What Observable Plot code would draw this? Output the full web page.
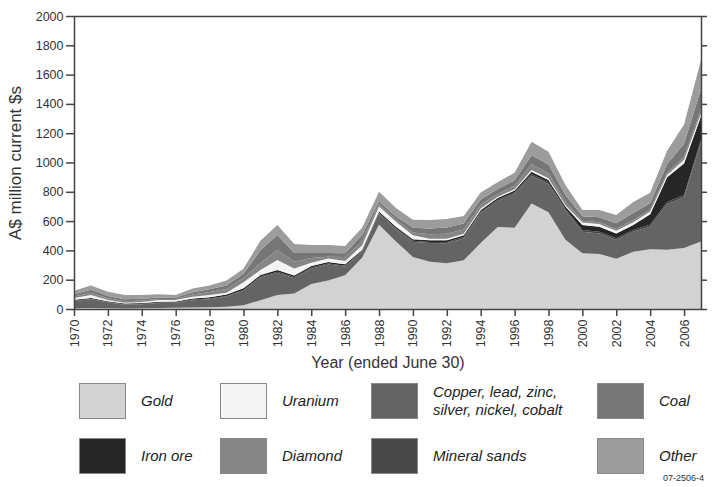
<!DOCTYPE html>
<html>
<head>
<meta charset="utf-8">
<script src="https://cdn.jsdelivr.net/npm/d3@7"></script>
<script src="https://cdn.jsdelivr.net/npm/@observablehq/plot@0.6"></script>
<style>
  html, body { margin: 0; padding: 0; background: #fff; }
  body { width: 712px; height: 487px; overflow: hidden; font-family: "Liberation Sans", Arial, sans-serif; }
  #chart svg { display: block; }
  g[aria-label="y-axis label"] text { font-size: 17px; }
  g[aria-label="x-axis label"] text { font-size: 16px; }
  #legend { position: relative; width: 712px; height: 112px; }
  .sw { position: absolute; width: 47px; height: 36px; border: 1px solid #888; box-sizing: border-box; }
  .lb { position: absolute; font-style: italic; font-size: 15px; color: #222; line-height: 18px; }
  #code { position: absolute; right: 8px; top: 98px; font-size: 9px; color: #333; }
</style>
</head>
<body>
<div id="chart"></div>
<div id="legend"></div>
<script>
const years = d3.range(1970, 2008);
const names = ["Gold", "Copper, lead, zinc, silver, nickel, cobalt", "Mineral sands", "Iron ore", "Uranium", "Diamond", "Coal", "Other"];
const colors = ["#d2d2d2", "#646464", "#474747", "#262626", "#f4f4f4", "#858585", "#767676", "#9c9c9c"];

const gold = [5,6,5,4,5,6,8,10,12,15, 25,60,96,105,170,195,230,350,575,460, 355,322,312,332,450,560,555,720,660,472, 380,376,343,390,408,405,416,460];
const copper = [50,60,40,25,28,35,35,50,55,70, 100,155,150,105,105,108,60,40,75,85, 103,128,137,150,205,177,232,190,192,200, 148,140,128,138,154,310,347,680];
const sands = [3,3,3,3,3,3,3,4,4,4, 5,7,8,8,8,7,5,5,6,7, 8,8,8,9,9,9,10,12,12,12, 12,12,12,12,14,15,15,15];
const ironOre = [5,6,5,5,5,6,6,8,9,10, 12,10,12,10,10,10,10,8,10,10, 10,12,12,12,12,12,12,15,16,15, 33,34,33,33,70,170,215,160];
const uranium = [12,21,8,6,7,11,9,12,16,12, 40,34,68,48,23,25,23,30,34,34, 27,10,10,10,10,8,8,12,12,10, 18,18,18,20,20,15,25,22];
const diamond = [10,15,12,10,10,8,8,15,20,25, 30,48,69,47,32,12,27,30,15,15, 20,30,35,30,25,20,22,40,35,25, 12,12,12,12,12,15,20,25];
const coal = [15,20,15,13,12,10,10,15,18,25, 28,87,102,59,34,25,25,40,20,20, 32,40,42,40,36,33,38,60,60,45, 30,35,40,50,45,60,90,140];
const other = [25,29,30,30,26,21,17,26,26,34, 35,65,68,62,55,55,50,52,66,58, 55,57,59,52,48,46,53,93,87,67, 43,49,56,75,71,90,132,198];

const xTicks = d3.range(1970, 2007, 2);
const yTicks = d3.range(0, 2001, 200);
const yLabel = "A$ million current $s";
const xLabel = "Year (ended June 30)";

const seriesValues = [gold, copper, sands, ironOre, uranium, diamond, coal, other];
const data = [];
names.forEach((name, i) => {
  years.forEach((yr, j) => data.push({year: yr, series: name, value: seriesValues[i][j]}));
});

const chart = Plot.plot({
  width: 712,
  height: 375,
  marginLeft: 74,
  marginRight: 11,
  marginTop: 16,
  marginBottom: 66,
  style: {fontSize: "12.5px", fontFamily: "Liberation Sans, Arial, sans-serif", color: "#333", background: "#fff"},
  x: {domain: [1970, 2007]},
  y: {domain: [0, 2000]},
  color: {domain: names, range: colors},
  marks: [
    Plot.areaY(data, {x: "year", y: "value", fill: "series", order: names}),
    Plot.frame({stroke: "#444", strokeWidth: 1.5}),
    Plot.axisY({ticks: yTicks, tickSize: 8, tickPadding: 3, stroke: "#444", strokeWidth: 1.5, tickFormat: d => String(d), label: yLabel, labelAnchor: "center", labelArrow: "none", labelOffset: 66}),
    Plot.axisY({anchor: "right", ticks: yTicks, tickSize: 5, stroke: "#444", strokeWidth: 1.5, tickFormat: () => "", label: null}),
    Plot.axisX({ticks: xTicks, tickSize: 7, tickPadding: 3, tickRotate: -90, stroke: "#444", strokeWidth: 1.5, tickFormat: d => String(d), label: xLabel, labelAnchor: "center", labelArrow: "none", labelOffset: 58})
  ]
});
document.getElementById("chart").appendChild(chart);

// legend
const legendItems = [
  {name: "Gold", label: "Gold", col: 0, row: 0},
  {name: "Uranium", label: "Uranium", col: 1, row: 0},
  {name: "Copper, lead, zinc, silver, nickel, cobalt", label: "Copper, lead, zinc,<br>silver, nickel, cobalt", col: 2, row: 0},
  {name: "Coal", label: "Coal", col: 3, row: 0},
  {name: "Iron ore", label: "Iron ore", col: 0, row: 1},
  {name: "Diamond", label: "Diamond", col: 1, row: 1},
  {name: "Mineral sands", label: "Mineral sands", col: 2, row: 1},
  {name: "Other", label: "Other", col: 3, row: 1}
];
const colX = [79, 220, 371, 597];
const rowY = [8, 63];
const legend = document.getElementById("legend");
legendItems.forEach(it => {
  const sw = document.createElement("div");
  sw.className = "sw";
  sw.style.left = colX[it.col] + "px";
  sw.style.top = rowY[it.row] + "px";
  sw.style.background = colors[names.indexOf(it.name)];
  legend.appendChild(sw);
  const lb = document.createElement("div");
  lb.className = "lb";
  lb.innerHTML = it.label;
  lb.style.left = (colX[it.col] + 62) + "px";
  const lines = it.label.split("<br>").length;
  lb.style.top = (rowY[it.row] + 18 - lines * 9) + "px";
  legend.appendChild(lb);
});
const code = document.createElement("div");
code.id = "code";
code.textContent = "07-2506-4";
legend.appendChild(code);
</script>
</body>
</html>
